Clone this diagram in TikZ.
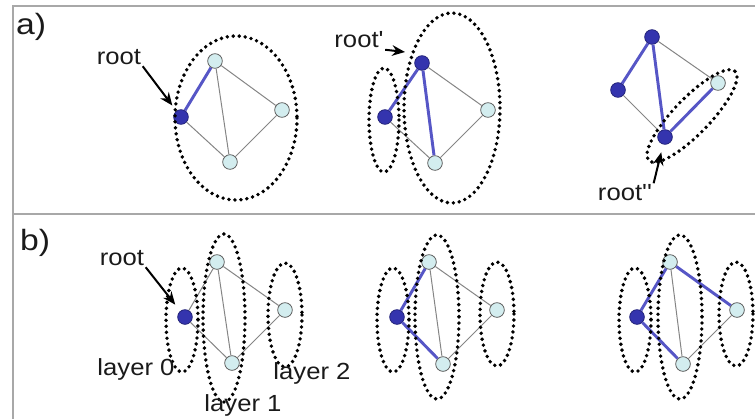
\documentclass[tikz,border=0pt]{standalone}
\usepackage{fontspec}
\setmainfont{Liberation Sans}
\newfontfamily\lblfont[FakeStretch=1.1]{Liberation Sans}
\newfontfamily\tagfont[FakeStretch=1.15]{Liberation Sans}
\usetikzlibrary{arrows.meta,positioning}
\definecolor{frame}{HTML}{A8A8A8}
\definecolor{deep}{HTML}{3434AE}
\definecolor{deepline}{HTML}{5656C6}
\definecolor{pale}{HTML}{D3EDEF}
\definecolor{edge}{HTML}{858585}
\definecolor{ink}{HTML}{1A1A1A}
\tikzset{
  vtx/.style   = {circle, draw=edge!70!black, fill=pale, line width=0.6pt,
                  minimum size=11pt, inner sep=0pt},
  rootv/.style = {vtx, draw=deep!70!black, fill=deep},
  ge/.style    = {draw=edge, line width=0.75pt},
  be/.style    = {draw=deepline, line width=2.2pt},
  grp/.style   = {draw=black, line width=2.9pt, line cap=round, dash pattern=on 0pt off 4.5pt},
  lbl/.style   = {font=\lblfont\fontsize{17.5}{19}\selectfont, text=ink, inner sep=1pt},
  tag/.style   = {font=\tagfont\fontsize{22}{24}\selectfont, text=ink, inner sep=0pt},
  ptr/.style   = {-{Stealth[length=3.4mm,width=2.8mm]}, line width=1.5pt, draw=black},
}

\begin{document}
\begin{tikzpicture}[x=0.75pt, y=-0.75pt]
\useasboundingbox (0,0) rectangle (755,419);
% frame
\draw[frame, line width=1pt] (13,419) -- (13,6) -- (755,6);
\draw[frame, line width=1pt] (13,214) -- (755,214);
\node[tag] (ta) at (31,27) {a)};
\node[tag] (tb) at (35,243) {b)};

% a) first graph
\node[rootv] (r1) at (181,117) {};
\node[vtx]   (t1) at (215,61)  {};
\node[vtx]   (e1) at (282,110) {};
\node[vtx]   (b1) at (230,162) {};
\draw[be](r1)--(t1); \draw[ge](r1)--(b1); \draw[ge](t1)--(e1); \draw[ge](e1)--(b1); \draw[ge](t1)--(b1);
\draw[grp] (236,118) ellipse [x radius=61, y radius=82];
\node[lbl] (lr1) at (119,57) {root};
\draw[ptr, shorten >=5pt] (lr1.south east) -- (r1);

% a) second graph
\node[rootv] (r2) at (385,117) {};
\node[rootv] (t2) at (422,63)  {};
\node[vtx]   (e2) at (488,110) {};
\node[vtx]   (b2) at (435,163) {};
\draw[be](r2)--(t2); \draw[be](t2)--(b2); \draw[ge](r2)--(b2); \draw[ge](t2)--(e2); \draw[ge](e2)--(b2);
\draw[grp] (384,120) ellipse [x radius=15, y radius=52];
\draw[grp] (452,108) ellipse [x radius=48, y radius=95];
\node[lbl] (lr2) at (359,40) {root'};
\coordinate (p2) at (405,52);
\draw[ptr] (lr2.south east) -- (p2);

% a) third graph
\node[rootv] (t3) at (652,37)  {};
\node[rootv] (r3) at (618,90)  {};
\node[vtx]   (e3) at (718,83)  {};
\node[rootv] (b3) at (665,137) {};
\draw[be](t3)--(r3); \draw[be](t3)--(b3); \draw[be](b3)--(e3); \draw[ge](t3)--(e3); \draw[ge](r3)--(b3);
\draw[grp, rotate around={46:(692,116)}] (692,116) ellipse [x radius=62, y radius=18];
\node[lbl] (lr3) at (625,193) {root''};
\draw[ptr, shorten >=6pt] (lr3.north east) -- (b3);

% b) first graph
\node[rootv] (r4) at (185,317) {};
\node[vtx]   (t4) at (217,262) {};
\node[vtx]   (e4) at (285,310) {};
\node[vtx]   (b4) at (232,363) {};
\draw[ge](r4)--(t4); \draw[ge](r4)--(b4); \draw[ge](t4)--(e4); \draw[ge](e4)--(b4); \draw[ge](t4)--(b4);
\draw[grp] (182,320) ellipse [x radius=16, y radius=52];
\draw[grp] (224,318) ellipse [x radius=21, y radius=84];
\draw[grp] (285,315) ellipse [x radius=17, y radius=52];
\node[lbl] (lr4) at (122,258) {root};
\draw[ptr, shorten >=6pt] (lr4.south east) -- (r4);
\node[lbl] (l0) at (136,369) {layer 0};
\node[lbl] (l1) at (243,405) {layer 1};
\node[lbl] (l2) at (312,373) {layer 2};

% b) second graph
\node[rootv] (r5) at (397,317) {};
\node[vtx]   (t5) at (429,262) {};
\node[vtx]   (e5) at (497,310) {};
\node[vtx]   (b5) at (443,364) {};
\draw[be](r5)--(t5); \draw[be](r5)--(b5); \draw[ge](t5)--(e5); \draw[ge](e5)--(b5); \draw[ge](t5)--(b5);
\draw[grp] (393,320) ellipse [x radius=16, y radius=52];
\draw[grp] (437,317) ellipse [x radius=22, y radius=82];
\draw[grp] (497,314) ellipse [x radius=17, y radius=52];

% b) third graph
\node[rootv] (r6) at (637,317) {};
\node[vtx]   (t6) at (670,262) {};
\node[vtx]   (e6) at (737,310) {};
\node[vtx]   (b6) at (683,364) {};
\draw[be](r6)--(t6); \draw[be](r6)--(b6); \draw[be](t6)--(e6); \draw[ge](e6)--(b6); \draw[ge](t6)--(b6);
\draw[grp] (635,320) ellipse [x radius=16, y radius=52];
\draw[grp] (680,317) ellipse [x radius=22, y radius=82];
\draw[grp] (736,314) ellipse [x radius=17, y radius=52];
\end{tikzpicture}
\end{document}
